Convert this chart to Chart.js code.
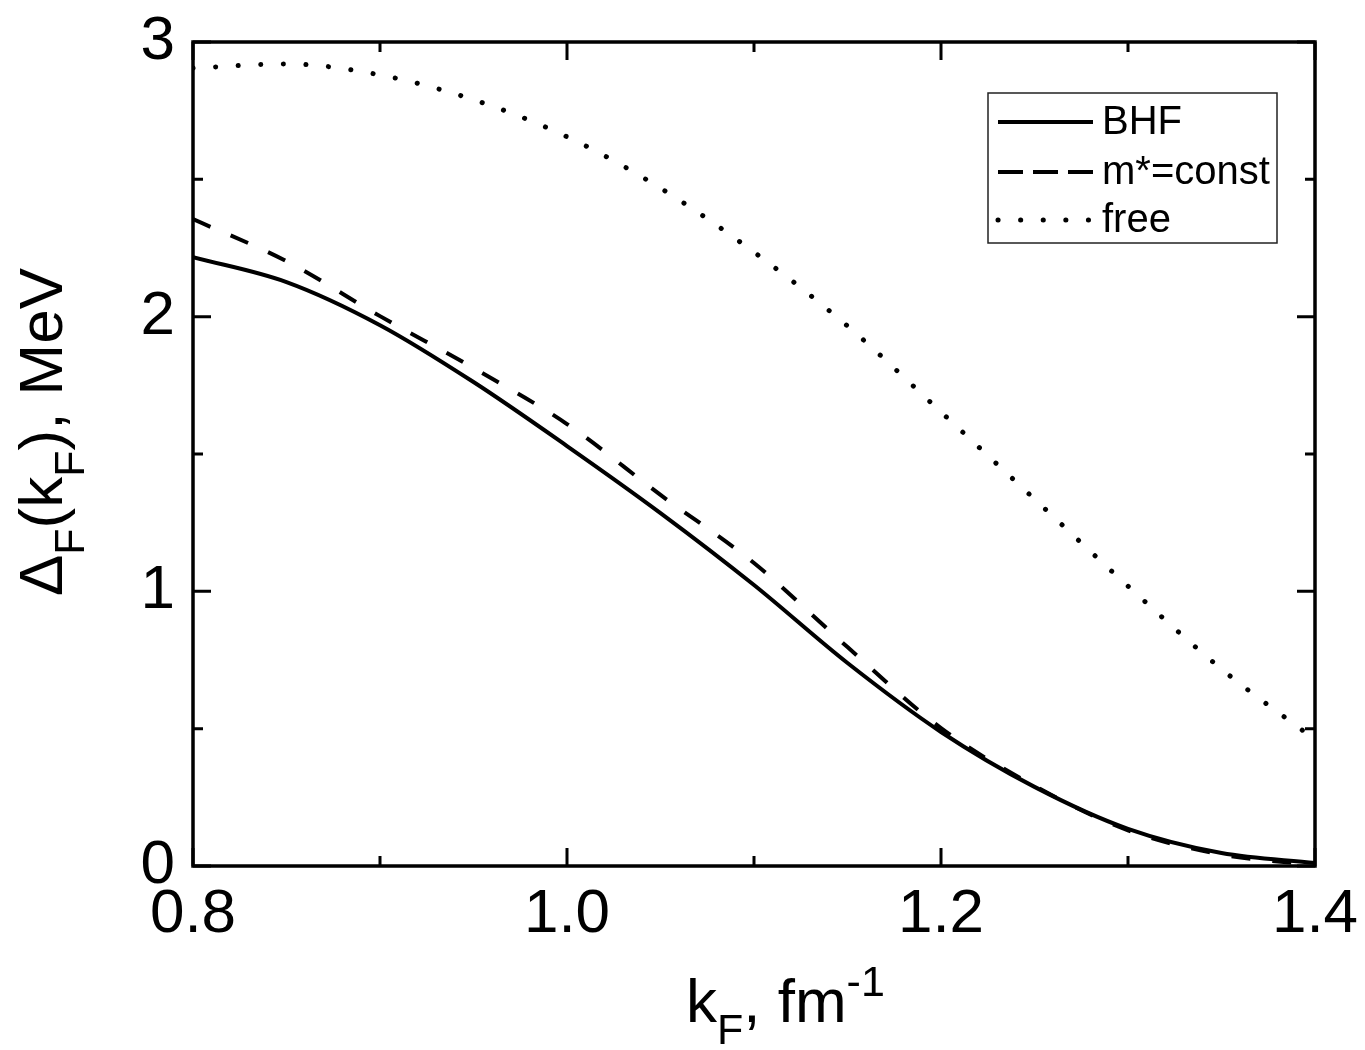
<!DOCTYPE html>
<html lang="en">
<head>
    <meta charset="UTF-8">
    <title>Delta_F(k_F)</title>
    <script src="https://cdn.jsdelivr.net/npm/chart.js"></script>
    <style>
        html, body { margin: 0; padding: 0; background: #fff; }
        #wrap { width: 1365px; height: 1050px; }
    </style>
</head>
<body>
    <div id="wrap"><canvas id="gapChart" width="1365" height="1050"></canvas></div>
    <script>
        // values
        const kF = [0.80, 0.85, 0.90, 0.95, 1.00, 1.05, 1.10, 1.15, 1.20, 1.25, 1.30, 1.35, 1.40];
        const bhf = [2.217, 2.126, 1.969, 1.762, 1.529, 1.285, 1.023, 0.739, 0.488, 0.288, 0.135, 0.047, 0.011];
        const mConst = [2.355, 2.202, 2.002, 1.813, 1.609, 1.351, 1.103, 0.797, 0.502, 0.292, 0.130, 0.042, 0.004];
        const free = [2.905, 2.920, 2.880, 2.790, 2.655, 2.468, 2.235, 1.966, 1.653, 1.336, 1.019, 0.717, 0.460];

        const xTicks = [0.8, 1.0, 1.2, 1.4];
        const xMinor = [0.9, 1.1, 1.3];
        const yTicks = [0, 1, 2, 3];
        const yMinor = [0.5, 1.5, 2.5];

        const FONT = '"Liberation Sans", Arial, sans-serif';

        function pts(ys) {
            return kF.map((k, i) => ({ x: k, y: ys[i] }));
        }

        // draws text pieces: [text, sizeScale, baselineShift]
        function drawPieces(ctx, pieces, size, x, y) {
            let cx = x;
            pieces.forEach(p => {
                ctx.font = Math.round(size * p[1]) + 'px ' + FONT;
                ctx.fillText(p[0], cx, y + p[2]);
                cx += ctx.measureText(p[0]).width;
            });
            return cx - x;
        }
        function piecesWidth(ctx, pieces, size) {
            let w = 0;
            pieces.forEach(p => {
                ctx.font = Math.round(size * p[1]) + 'px ' + FONT;
                w += ctx.measureText(p[0]).width;
            });
            return w;
        }

        const framePlugin = {
            id: 'frame',
            afterDraw(chart) {
                const ctx = chart.ctx;
                const a = chart.chartArea;
                const xs = chart.scales.x, ys = chart.scales.y;
                ctx.save();
                ctx.strokeStyle = '#000';
                ctx.fillStyle = '#000';
                ctx.lineWidth = 3.5;
                ctx.strokeRect(a.left, a.top, a.right - a.left, a.bottom - a.top);

                // inward ticks on all four sides
                ctx.lineWidth = 3;
                ctx.beginPath();
                const tick = (vals, len) => {
                    vals.forEach(v => {
                        const px = xs.getPixelForValue(v);
                        ctx.moveTo(px, a.bottom); ctx.lineTo(px, a.bottom - len);
                        ctx.moveTo(px, a.top); ctx.lineTo(px, a.top + len);
                    });
                };
                const tickY = (vals, len) => {
                    vals.forEach(v => {
                        const py = ys.getPixelForValue(v);
                        ctx.moveTo(a.left, py); ctx.lineTo(a.left + len, py);
                        ctx.moveTo(a.right, py); ctx.lineTo(a.right - len, py);
                    });
                };
                tick(xTicks, 18); tick(xMinor, 10);
                tickY(yTicks, 18); tickY(yMinor, 10);
                ctx.stroke();

                // x title: k_F, fm^-1
                const size = 62;
                ctx.textBaseline = 'alphabetic';
                ctx.textAlign = 'left';
                const xt = [['k', 1, 0], ['F', 0.7, 22], [', fm', 1, 0], ['-1', 0.7, -26]];
                drawPieces(ctx, xt, size, 686, 1022);

                // y title: Delta_F(k_F), MeV (rotated)
                const yt = [['\u0394', 1, 0], ['F', 0.7, 22], ['(k', 1, 0], ['F', 0.7, 22], ['), MeV', 1, 0]];
                const w = piecesWidth(ctx, yt, size);
                ctx.save();
                ctx.translate(62, 432);
                ctx.rotate(-Math.PI / 2);
                drawPieces(ctx, yt, size, -w / 2, 0);
                ctx.restore();

                // legend
                ctx.lineWidth = 1.5;
                ctx.strokeStyle = '#222';
                ctx.strokeRect(988, 93, 289, 150);
                ctx.strokeStyle = '#000';
                const rows = [
                    ['BHF', 122, []],
                    ['m*=const', 172, [25, 10]],
                    ['free', 220, [0.1, 22.5]]
                ];
                rows.forEach(r => {
                    const dotted = r[2].length && r[2][0] < 1;
                    ctx.beginPath();
                    ctx.lineWidth = dotted ? 5 : 4;
                    ctx.lineCap = dotted ? 'round' : 'butt';
                    ctx.setLineDash(r[2]);
                    ctx.moveTo(998, r[1]);
                    ctx.lineTo(1093, r[1]);
                    ctx.stroke();
                    ctx.setLineDash([]);
                    ctx.font = '40px ' + FONT;
                    ctx.textBaseline = 'middle';
                    ctx.fillText(r[0], 1102, r[1] + 1);
                });
                ctx.restore();
            }
        };

        const ctx = document.getElementById('gapChart').getContext('2d');
        const gapChart = new Chart(ctx, {
            type: 'line',
            data: {
                datasets: [
                    {
                        label: 'BHF',
                        data: pts(bhf),
                        borderColor: '#000',
                        borderWidth: 4,
                        pointRadius: 0,
                        cubicInterpolationMode: 'monotone'
                    },
                    {
                        label: 'm*=const',
                        data: pts(mConst),
                        borderColor: '#000',
                        borderWidth: 4,
                        borderDash: [19, 22],
                        pointRadius: 0,
                        cubicInterpolationMode: 'monotone'
                    },
                    {
                        label: 'free',
                        data: pts(free),
                        borderColor: '#000',
                        borderWidth: 5,
                        borderDash: [0.1, 22.5],
                        borderCapStyle: 'round',
                        pointRadius: 0,
                        cubicInterpolationMode: 'monotone'
                    }
                ]
            },
            options: {
                responsive: false,
                animation: false,
                events: [],
                layout: { padding: { top: 42, right: 50, left: 0, bottom: 0 } },
                plugins: {
                    legend: { display: false },
                    tooltip: { enabled: false }
                },
                scales: {
                    x: {
                        type: 'linear',
                        min: 0.8,
                        max: 1.4,
                        afterBuildTicks: s => { s.ticks = xTicks.map(v => ({ value: v })); },
                        afterFit: s => { s.height = 184; s.paddingLeft = 0; s.paddingRight = 0; },
                        grid: { display: false, drawTicks: false },
                        border: { display: false },
                        ticks: {
                            padding: 12,
                            color: '#000',
                            maxRotation: 0,
                            autoSkip: false,
                            font: { family: FONT, size: 62 },
                            callback: v => v.toFixed(1)
                        }
                    },
                    y: {
                        min: 0,
                        max: 3,
                        afterBuildTicks: s => { s.ticks = yTicks.map(v => ({ value: v })); },
                        afterFit: s => { s.width = 193; s.paddingTop = 0; s.paddingBottom = 0; },
                        grid: { display: false, drawTicks: false },
                        border: { display: false },
                        ticks: {
                            padding: 18,
                            color: '#000',
                            font: { family: FONT, size: 62 },
                            callback: v => String(v)
                        }
                    }
                }
            },
            plugins: [framePlugin]
        });
    </script>
</body>
</html>
